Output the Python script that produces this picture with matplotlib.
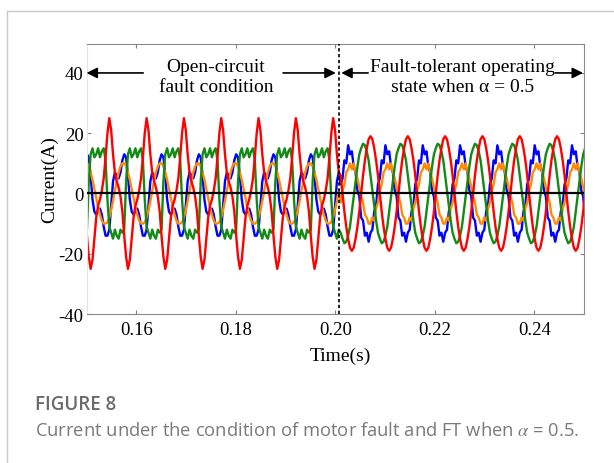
import numpy as np
import matplotlib
matplotlib.use("Agg")
import matplotlib.pyplot as plt
from matplotlib.lines import Line2D

# one period of each phase current, 20 samples, first sample at a red peak
# (values in A)
# open-circuit fault condition
red_fault = [25, 21, 13, 7, 4, 2, -1, -6, -14, -21, -25, -22, -15, -8, -4, -2, 1, 5, 12, 20]
green_fault = [-11, -13, -15, -12, -14, -15, -12, -13, -12, 4, 13, 15, 12, 13, 15, 12, 14, 15, 11, -2]
blue_fault = [-12, -4, 4, 7, 6, 5, 7, 11, 13, 12, 6, -2, -6, -7, -6, -5, -7, -11, -14, -14]
orange_fault = [-8, -5.5, -2.5, 1, 4, 7, 9, 10, 10, 9, 7, 4.5, 1.5, -1.5, -4.5, -7, -9, -10, -10, -9.5]
# fault-tolerant operation, alpha = 0.5
red_ft = [19, 18, 15, 11, 6, 0, -6, -11, -15, -18, -19, -18, -15, -11, -6, 0, 6, 11, 15, 18]
green_ft = [6, 1, -4, -9, -13, -15, -16.5, -16, -14, -11, -6, -1, 4, 9, 13, 15, 16.5, 16, 14, 11]
blue_ft = [-13, -12, -6, -4, 3, 5, 11, 10, 16, 13, 14, 9, 7, 1, -1, -8, -9, -14, -13, -16]
orange_ft = [-10, -8, -9, -5, -3, 1, 3, 7, 8, 10, 8, 10, 7, 5, 2, -1, -3, -7, -8, -10]

period = 0.0075      # s
first_peak = 0.15458 # s, first red peak
t_switch = 0.2008    # s, start of fault-tolerant control

xticks = [0.16, 0.18, 0.20, 0.22, 0.24]
yticks = [-40, -20, 0, 20, 40]

#---------------------------------------------------------------------------
n_per = len(red_fault)
dt = period / n_per
n = 300
t = first_peak - 2 * period + dt * np.arange(n)
idx = np.arange(n) % n_per
fault = t < t_switch


def build(a, b):
    return np.where(fault, np.array(a, float)[idx], np.array(b, float)[idx])


plt.rcParams['font.family'] = ['Liberation Serif', 'DejaVu Serif']
plt.rcParams['mathtext.fontset'] = 'stix'

fig = plt.figure(figsize=(6.14, 4.64), dpi=100)
ax = fig.add_axes((0.1409, 0.321, 0.8103, 0.582))

ax.plot(t, build(blue_fault, blue_ft), color='#0000ff', lw=1.7)
ax.plot(t, build(orange_fault, orange_ft), color='#ff8c00', lw=1.7)
ax.plot(t, build(green_fault, green_ft), color='#138a13', lw=1.7)
ax.plot(t, build(red_fault, red_ft), color='#ff0000', lw=1.7)
ax.axhline(0, color='k', lw=1.6, zorder=5)
ax.axvline(t_switch, color='k', lw=1.2, ls=(0, (2, 1.5)), zorder=6)

ax.set_xlim(0.15, 0.25)
ax.set_ylim(-40, 49.6)
ax.set_xticks(xticks)
ax.set_xticklabels(['%.2f' % v for v in xticks])
ax.set_yticks(yticks)
ax.set_yticklabels([str(v) for v in yticks])
ax.tick_params(direction='in', length=3, width=0.8, color='#808080',
               top=True, right=True, labelsize=13.5)
ax.tick_params(axis='x', pad=5)
ax.tick_params(axis='y', pad=2)
for s in ['top', 'bottom', 'right']:
    ax.spines[s].set_color('#8a8a8a')
ax.spines['left'].set_color('#e4e4e4')

ax.set_xlabel('Time(s)', fontsize=14)
ax.set_ylabel('Current(A)', fontsize=14)
ax.xaxis.set_label_coords(0.51, -0.12)
ax.yaxis.set_label_coords(-0.057, 0.5)

# arrows and notes on top of the plot
arr = dict(arrowstyle='-|>', color='k', lw=1.2, mutation_scale=16, shrinkA=0, shrinkB=0)
ax.annotate('', xy=(0.15, 40), xytext=(0.1614, 40), arrowprops=arr)
ax.annotate('', xy=(0.2001, 40), xytext=(0.1895, 40), arrowprops=arr)
ax.annotate('', xy=(0.2012, 40), xytext=(0.2066, 40), arrowprops=arr)
ax.annotate('', xy=(0.2498, 40), xytext=(0.2442, 40), arrowprops=arr)
ax.text(0.176, 38.8, 'Open-circuit\nfault condition', ha='center', va='center',
        fontsize=14, linespacing=1.25)
ax.text(0.2255, 38.8, 'Fault-tolerant operating\nstate when α = 0.5', ha='center',
        va='center', fontsize=14, linespacing=1.25)

# frame and caption
fig.add_artist(Line2D([7 / 614, 1], [1 - 12 / 464, 1 - 12 / 464], color='#c8c8c8', lw=1))
fig.add_artist(Line2D([7 / 614, 7 / 614], [1 - 12 / 464, 0], color='#c8c8c8', lw=1))
fig.text(35 / 614, 1 - 405 / 464, 'FIGURE 8', family=['Open Sans', 'DejaVu Sans'],
         weight='semibold', fontsize=13.5, color='#6b6b6b', va='center')
fig.text(35 / 614, 1 - 431 / 464,
         r'Current under the condition of motor fault and FT when $\alpha$ = 0.5.',
         family=['Open Sans', 'DejaVu Sans'], fontsize=13.2, color='#7a7a7a', va='center')

fig.savefig('out.png', dpi=100)
